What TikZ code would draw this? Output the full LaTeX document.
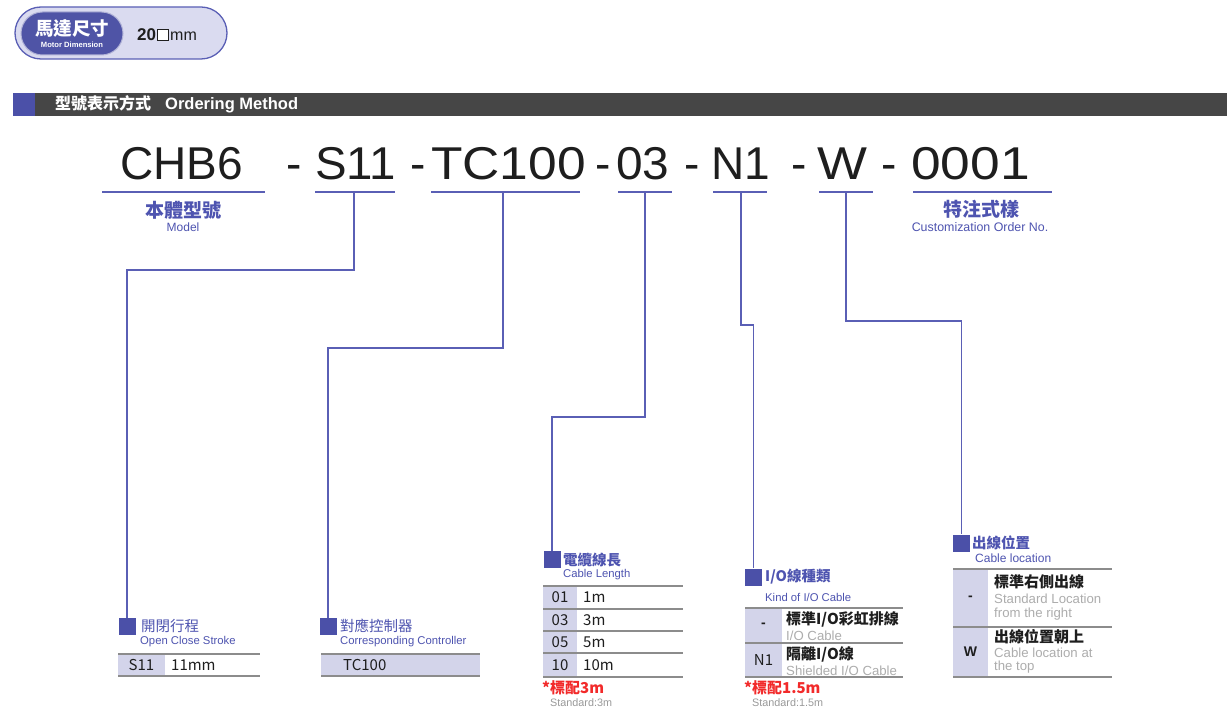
\documentclass[tikz,border=0pt]{standalone}
\usepackage{fontspec}
\setmainfont{Liberation Sans}
\newfontfamily\cjk{Noto Sans CJK TC}
\newcommand\fsz[1]{\fontsize{#1}{#1}\selectfont}
\definecolor{cline}{HTML}{5A5FB5}
\definecolor{sqblue}{HTML}{4B50A8}
\definecolor{lblue}{HTML}{4E54B0}
\definecolor{cellbg}{HTML}{D3D4EA}
\definecolor{tgray}{HTML}{8C8C8C}
\definecolor{gtxt}{HTML}{ADADAD}
\definecolor{stdtxt}{HTML}{999999}
\definecolor{redt}{HTML}{F22A2A}
\definecolor{barc}{HTML}{464646}
\definecolor{pillbg}{HTML}{DADBF0}
\definecolor{pilldark}{HTML}{4F54A6}
\definecolor{codetxt}{HTML}{1E1E1E}
\tikzset{
  conn/.style={draw=cline, line width=1.3pt},
  uline/.style={draw=cline, line width=1.2pt},
  sqbox/.style={fill=sqblue, minimum size=17pt, inner sep=0pt},
  codetok/.style={anchor=base west, inner sep=0pt, text=codetxt, font=\fsz{46}},
  lblcn/.style={anchor=west, inner sep=0pt, text=lblue, font=\cjk\bfseries\fsz{14.5}},
  lblcnr/.style={anchor=west, inner sep=0pt, text=lblue, font=\cjk\fsz{14.5}},
  lblen/.style={anchor=west, inner sep=0pt, text=lblue, font=\fsz{11.3}},
  tline/.style={draw=tgray, line width=1.5pt},
  cellc/.style={inner sep=0pt, text=codetxt, font=\cjk\fsz{15}},
  cellv/.style={anchor=west, inner sep=0pt, text=codetxt, font=\cjk\fsz{15}},
  celltit/.style={anchor=west, inner sep=0pt, text=codetxt, font=\cjk\bfseries\fsz{15}},
  celldesc/.style={anchor=west, inner sep=0pt, text=gtxt, font=\fsz{13.2}},
  redn/.style={anchor=west, inner sep=0pt, text=redt, font=\cjk\bfseries\fsz{15}},
  stdn/.style={anchor=west, inner sep=0pt, text=stdtxt, font=\fsz{10.8}},
}
\begin{document}
\begin{tikzpicture}[x=1pt,y=-1pt]
\useasboundingbox (0,0) rectangle (1227,719);
\fill[white] (0,0) rectangle (1227,719);

% ---- motor dimension pill ----
\draw[draw=cline, line width=1.3pt, fill=pillbg, rounded corners=26pt] (15,7) rectangle (227,59);
\draw[draw=white!55!pilldark, line width=1pt, fill=pilldark, rounded corners=21.5pt] (21,12) rectangle (123,55);
\node[inner sep=0pt, text=white, font=\cjk\bfseries\fsz{18.5}] (pillcn) at (72,29) {馬達尺寸};
\node[inner sep=0pt, text=white, font=\bfseries\fsz{7.6}] (pillen) at (72,45) {Motor Dimension};
\node[anchor=base west, inner sep=0pt, text=codetxt, font=\bfseries\fsz{17}] (p20) at (137,40.5) {20};
\node[draw=codetxt, fill=white, minimum size=11pt, inner sep=0pt, line width=0.9pt] (psq) at (163,34.5) {};
\node[anchor=base west, inner sep=0pt, text=codetxt, font=\fsz{16}] (pmm) at (170,40.5) {mm};

% ---- header bar ----
\fill[sqblue] (13,93) rectangle (35,116);
\fill[barc] (35,93) rectangle (1227,116);
\node[anchor=west, inner sep=0pt, text=white] (hdr) at (55,104.5)
  {{\cjk\bfseries\fsz{16}型號表示方式}\hspace{14pt}{\bfseries\fsz{16.5}Ordering Method}};

% ---- ordering code ----
\node[codetok] (cCHB) at (120,180) {CHB6};
\node[codetok] (d1) at (286,180) {-};
\node[codetok] (cS) at (315,180) {\scalebox{1.03}[1]{S11}};
\node[codetok] (d2) at (410,180) {-};
\node[codetok] (cTC) at (431,180) {\scalebox{1.12}[1]{TC100}};
\node[codetok] (d3) at (595,180) {-};
\node[codetok] (c03) at (616,180) {\scalebox{1.04}[1]{03}};
\node[codetok] (d4) at (684,180) {-};
\node[codetok] (cN) at (711.5,180) {N1};
\node[codetok] (d5) at (791,180) {-};
\node[codetok] (cW) at (817.5,180) {\scalebox{1.15}[1]{W}};
\node[codetok] (d6) at (881,180) {-};
\node[codetok] (c0001) at (911,180) {\scalebox{1.16}[1]{0001}};

\draw[uline] (102,192) -- (265,192);
\draw[uline] (315,192) -- (395,192);
\draw[uline] (431,192) -- (580,192);
\draw[uline] (618,192) -- (672,192);
\draw[uline] (713,192) -- (767,192);
\draw[uline] (819,192) -- (873,192);
\draw[uline] (913,192) -- (1052,192);

\coordinate (uS) at (354,192);
\coordinate (uTC) at (503,192);
\coordinate (u03) at (645,192);
\coordinate (uN) at (741,192);
\coordinate (uW) at (846,192);

\node[inner sep=0pt, text=lblue, font=\cjk\bfseries\fsz{19}] (modcn) at (183,210) {本體型號};
\node[inner sep=0pt, text=lblue, font=\fsz{12}] (moden) at (183,227) {Model};
\node[inner sep=0pt, text=lblue, font=\cjk\bfseries\fsz{19}] (custcn) at (981,209) {特注式樣};
\node[inner sep=0pt, text=lblue, font=\fsz{12.4}] (custen) at (980,227) {Customization Order No.};

% ---- squares ----
\node[sqbox] (sqS) at (127,626.5) {};
\node[sqbox] (sqTC) at (328,626.5) {};
\node[sqbox] (sqCL) at (552,559.5) {};
\node[sqbox] (sqIO) at (753.5,577) {};
\node[sqbox] (sqLoc) at (961.5,543) {};

% ---- connectors ----
\draw[conn] (uS) -- ++(0,78) -| (sqS.north);
\draw[conn] (uTC) -- ++(0,156) -| (sqTC.north);
\draw[conn] (u03) -- ++(0,225) -| (sqCL.north);
\draw[conn] (uN) -- ++(0,133) -| (sqIO.north);
\draw[conn] (uW) -- ++(0,129) -| (sqLoc.north);

% ---- open close stroke ----
\node[lblcnr] (lS) at (141,626) {開閉行程};
\node[lblen] (lSe) at (140,642) {Open Close Stroke};
\fill[cellbg] (118,654) rectangle (165,676);
\draw[tline] (118,654) -- (260,654);
\draw[tline] (118,676) -- (260,676);
\node[cellc] (t1c) at (141.5,665) {S11};
\node[cellv] (t1v) at (171,665) {11mm};

% ---- corresponding controller ----
\node[lblcnr] (lTC) at (340,626) {對應控制器};
\node[lblen] (lTCe) at (340,642) {Corresponding Controller};
\fill[cellbg] (321,654) rectangle (480,676);
\draw[tline] (321,654) -- (480,654);
\draw[tline] (321,676) -- (480,676);
\node[cellv] (t2v) at (343,665) {TC100};

% ---- cable length ----
\node[lblcn] (lCL) at (563,560) {電纜線長};
\node[lblen] (lCLe) at (563,575) {Cable Length};
\fill[cellbg] (543,586) rectangle (577,677);
\foreach \yy in {586,609,631,653,677} \draw[tline] (543,\yy) -- (683,\yy);
\node[cellc] (c01) at (560,597.5) {01};
\node[cellv] (v01) at (583,597.5) {1m};
\node[cellc] (c03t) at (560,620) {03};
\node[cellv] (v03) at (583,620) {3m};
\node[cellc] (c05) at (560,642) {05};
\node[cellv] (v05) at (583,642) {5m};
\node[cellc] (c10) at (560,665) {10};
\node[cellv] (v10) at (583,665) {10m};
\node[redn] (rCL) at (542,687.5) {*標配3m};
\node[stdn] (sCL) at (550,703) {Standard:3m};

% ---- kind of I/O cable ----
\node[lblcn] (lIO) at (765,577) {I/O線種類};
\node[lblen] (lIOe) at (765,597) {Kind of I/O Cable};
\fill[cellbg] (745,608) rectangle (782,677);
\foreach \yy in {608,643,677} \draw[tline] (745,\yy) -- (903,\yy);
\node[cellc, font=\bfseries\fsz{14}] (ioc1) at (763.5,625.5) {-};
\node[celltit] (iot1) at (786,619) {標準I/O彩虹排線};
\node[celldesc] (iod1) at (786,636) {I/O Cable};
\node[cellc] (ioc2) at (763.5,660) {N1};
\node[celltit] (iot2) at (786,654) {隔離I/O線};
\node[celldesc] (iod2) at (786,670.5) {Shielded I/O Cable};
\node[redn] (rIO) at (744,687.5) {*標配1.5m};
\node[stdn] (sIO) at (752,703) {Standard:1.5m};

% ---- cable location ----
\node[lblcn] (lLoc) at (972,543) {出線位置};
\node[lblen, font=\fsz{12}] (lLoce) at (975,558) {Cable location};
\fill[cellbg] (953,569) rectangle (988,677);
\foreach \yy in {569,627,677} \draw[tline] (953,\yy) -- (1112,\yy);
\node[cellc, font=\bfseries\fsz{14}] (lc1) at (970.5,598) {-};
\node[celltit] (lt1) at (994,582) {標準右側出線};
\node[celldesc] (ld1a) at (994,599) {Standard Location};
\node[celldesc] (ld1b) at (994,614) {from the right};
\node[cellc, font=\bfseries\fsz{14}] (lc2) at (970.5,652) {W};
\node[celltit] (lt2) at (994,637) {出線位置朝上};
\node[celldesc] (ld2a) at (994,653) {Cable location at};
\node[celldesc] (ld2b) at (994,667) {the top};
\end{tikzpicture}
\end{document}
